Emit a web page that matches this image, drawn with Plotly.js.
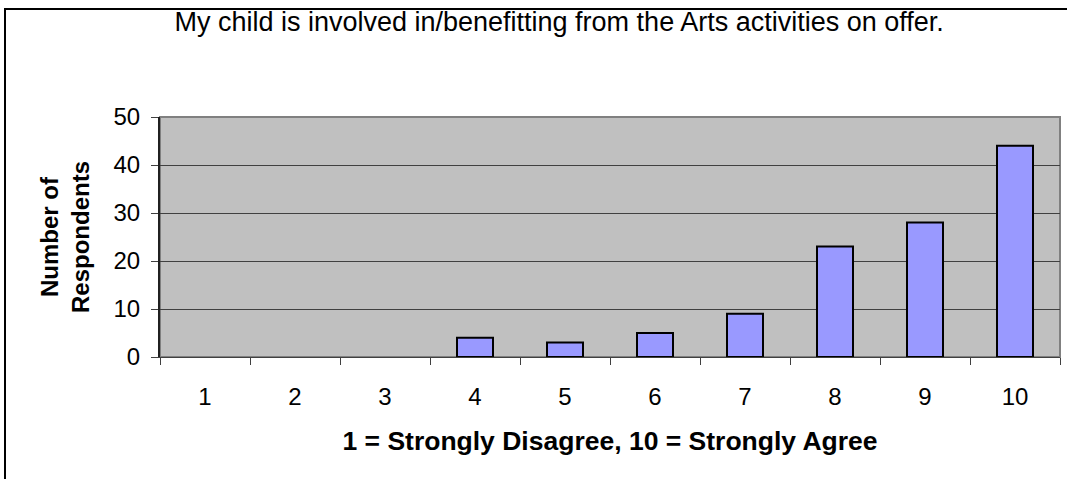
<!DOCTYPE html>
<html><head><meta charset="utf-8">
<script src="https://cdn.plot.ly/plotly-3.0.1.min.js"></script>
<style>
html,body{margin:0;padding:0;background:#fff;}
#wrap{position:absolute;left:0;top:0;width:1067px;height:479px;overflow:hidden;}
#frame{position:absolute;left:4px;top:8px;width:1100px;height:520px;border-left:2px solid #000;border-top:2px solid #000;pointer-events:none;}
#chart{position:absolute;left:0;top:0;width:1067px;height:479px;}
</style></head>
<body>
<div id="wrap"><div id="chart"></div><div id="frame"></div></div>
<script>
const categories = ['1','2','3','4','5','6','7','8','9','10'];
const respondents = [0,0,0,4,3,5,9,23,28,44];
const titleText = 'My child is involved in/benefitting from the Arts activities on offer.';
const xTitle = '1 = Strongly Disagree, 10 = Strongly Agree';
const yTitle = 'Number of<br>Respondents';

const font = 'Liberation Sans, Arial, sans-serif';
Plotly.newPlot('chart', [{
  type: 'bar',
  x: categories,
  y: respondents,
  width: 0.4,
  marker: {color: '#9999ff', line: {color: '#000', width: respondents.map(v => v > 0 ? 2 : 0)}},
  hoverinfo: 'x+y'
}], {
  width: 1067, height: 479,
  margin: {l: 160, r: 7, t: 117, b: 122},
  paper_bgcolor: '#fff',
  plot_bgcolor: '#c0c0c0',
  showlegend: false,
  font: {family: font, size: 23, color: '#000'},
  title: {text: titleText, font: {family: font, size: 27, color: '#000'}, x: 0.524, xanchor: 'center', y: 0.954, yanchor: 'middle'},
  xaxis: {
    type: 'category',
    tickson: 'boundaries',
    ticks: 'outside', ticklen: 7, tickcolor: '#404040', tickwidth: 1,
    ticklabelstandoff: 18,
    showline: true, linecolor: '#404040', linewidth: 1,
    showgrid: false,
    tickfont: {size: 24},
    title: {text: '<b>' + xTitle + '</b>', font: {size: 26.5}, standoff: 22}
  },
  yaxis: {
    range: [0, 50], dtick: 10,
    ticks: 'outside', ticklen: 7, tickcolor: '#404040', tickwidth: 1,
    ticklabelstandoff: 6,
    showline: true, linecolor: '#202020', linewidth: 2,
    showgrid: true, gridcolor: '#404040', gridwidth: 1,
    zeroline: false,
    tickfont: {size: 24},
    title: {text: '<b>' + yTitle + '</b>', font: {size: 24}, standoff: 17}
  },
  shapes: [
    {type: 'rect', xref: 'paper', yref: 'paper', x0: 0, x1: 1, y0: 0, y1: 1, line: {color: '#808080', width: 2}, layer: 'below'}
  ]
}, {displayModeBar: false});
</script>
</body></html>
